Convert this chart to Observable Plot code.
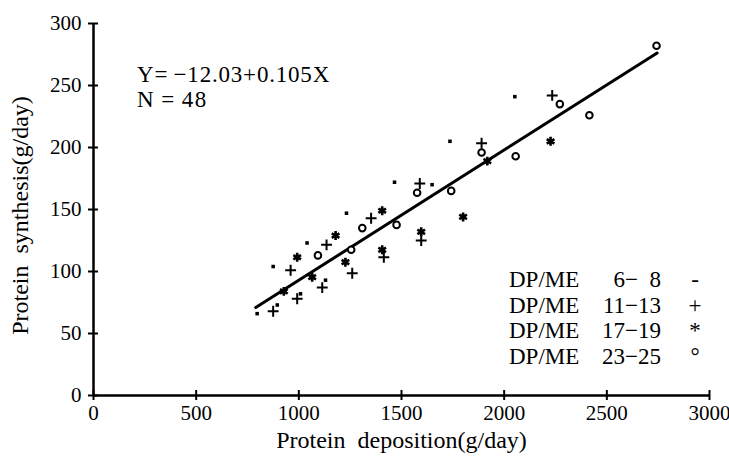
<!DOCTYPE html>
<html><head><meta charset="utf-8">
<script src="https://cdn.jsdelivr.net/npm/d3@7"></script>
<script src="https://cdn.jsdelivr.net/npm/@observablehq/plot@0.6"></script>
<style>
body{margin:0;background:#fff;}
#wrap{position:relative;width:729px;height:461px;font-family:"Liberation Serif","Times New Roman",serif;color:#000;}
#wrap svg{position:absolute;left:0;top:0;}
#wrap svg text{font-family:"Liberation Serif","Times New Roman",serif;}
.ov{position:absolute;font-size:23px;line-height:1;white-space:pre;}
</style></head>
<body><div id="wrap"></div>
<script>
// ---- data ----
const xTicks = [0, 500, 1000, 1500, 2000, 2500, 3000];
const yTicks = [0, 50, 100, 150, 200, 250, 300];
const dp68X = [797, 895, 875, 1008, 1040, 1130, 1232, 1466, 1649, 1736, 2052];
const dp68Y = [66, 73, 104, 82, 123, 93, 147, 172, 170, 205, 241];
const dp1113X = [875, 960, 992, 1114, 1135, 1260, 1352, 1414, 1596, 1589, 1890, 2234];
const dp1113Y = [68, 101, 78, 87, 121.5, 98.6, 143, 111.5, 125, 171, 203.5, 242];
const dp1719X = [927, 992, 1065, 1179, 1227, 1406, 1406, 1596, 1800, 1918, 2226];
const dp1719Y = [84, 111.5, 95.4, 129, 107.5, 149, 117.5, 132, 144, 189, 205];
const dp2325X = [1093, 1255, 1309, 1476, 1576, 1742, 1890, 2056, 2271, 2415, 2742];
const dp2325Y = [113, 117.5, 135, 137.6, 163.5, 165, 196, 193, 235, 226, 282];
const intercept = -12.03, slope = 0.105;
const fitRange = [790, 2745];
const legendNames = ["DP/ME", "DP/ME", "DP/ME", "DP/ME"];
const legendRanges = ["6\u2212  8", "11\u221213", "17\u221219", "23\u221225"];
const legendSyms = ["-", "+", "*", "\u00b0"];

const toRows = (xs, ys) => xs.map((x, i) => ({x, y: ys[i]}));
const fit = fitRange.map(x => ({x, y: intercept + slope * x}));

const plot = Plot.plot({
  width: 729, height: 461,
  marginLeft: 93, marginRight: 20, marginTop: 23, marginBottom: 66,
  style: {fontSize: "21px", color: "#000", background: "#fff"},
  x: {domain: [0, 3000]},
  y: {domain: [0, 300]},
  marks: [
    Plot.axisX(xTicks, {tickSize: 10, dy: -5, strokeWidth: 2, tickFormat: () => "", label: null}),
    Plot.axisX(xTicks, {tickSize: 0, tickPadding: 10, label: null, fontSize: 21, letterSpacing: "-1px", tickFormat: d => String(d)}),
    Plot.axisY(yTicks, {tickSize: 10, dx: 5, strokeWidth: 2, tickFormat: () => "", label: null}),
    Plot.axisY(yTicks, {tickSize: 0, tickPadding: 12, label: null, fontSize: 21, letterSpacing: "-1px", tickFormat: d => String(d)}),
    Plot.ruleX([0], {strokeWidth: 2.5}),
    Plot.ruleY([0], {strokeWidth: 2.5}),
    Plot.text(["Protein  deposition(g/day)"], {frameAnchor: "bottom", textAnchor: "middle", lineAnchor: "middle", dy: 45, fontSize: 24}),
    Plot.text(["Protein  synthesis(g/day)"], {frameAnchor: "left", textAnchor: "middle", lineAnchor: "middle", dx: -73, dy: 6, rotate: -90, fontSize: 24}),
    Plot.line(fit, {x: "x", y: "y", stroke: "black", strokeWidth: 3}),
    Plot.dot(toRows(dp68X, dp68Y), {x: "x", y: "y", symbol: "square", r: 2, fill: "black"}),
    Plot.dot(toRows(dp1113X, dp1113Y), {x: "x", y: "y", symbol: "plus", r: 3.6, stroke: "black", strokeWidth: 2}),
    Plot.dot(toRows(dp1719X, dp1719Y), {x: "x", y: "y", symbol: "asterisk", r: 4.2, stroke: "black", strokeWidth: 2.6}),
    Plot.dot(toRows(dp2325X, dp2325Y), {x: "x", y: "y", symbol: "circle", r: 3.3, stroke: "black", fill: "white", strokeWidth: 2})
  ]
});
const wrap = document.getElementById("wrap");
wrap.appendChild(plot);

function ov(text, css) {
  const d = document.createElement("div");
  d.className = "ov";
  d.textContent = text;
  Object.assign(d.style, css);
  wrap.appendChild(d);
}
ov("Y=\u2009\u221212.03+0.105X", {left: "137px", top: "63px", letterSpacing: "0.8px"});
ov("N\u2009=\u200948", {left: "137px", top: "88px", letterSpacing: "1.5px"});
legendNames.forEach((n, i) => {
  const top = (268 + i * 25.5) + "px";
  ov(n, {left: "509px", top});
  ov(legendRanges[i], {left: "590px", width: "71px", textAlign: "right", top});
  ov(legendSyms[i], {left: "686px", width: "18px", textAlign: "center", top});
});
</script></body></html>
